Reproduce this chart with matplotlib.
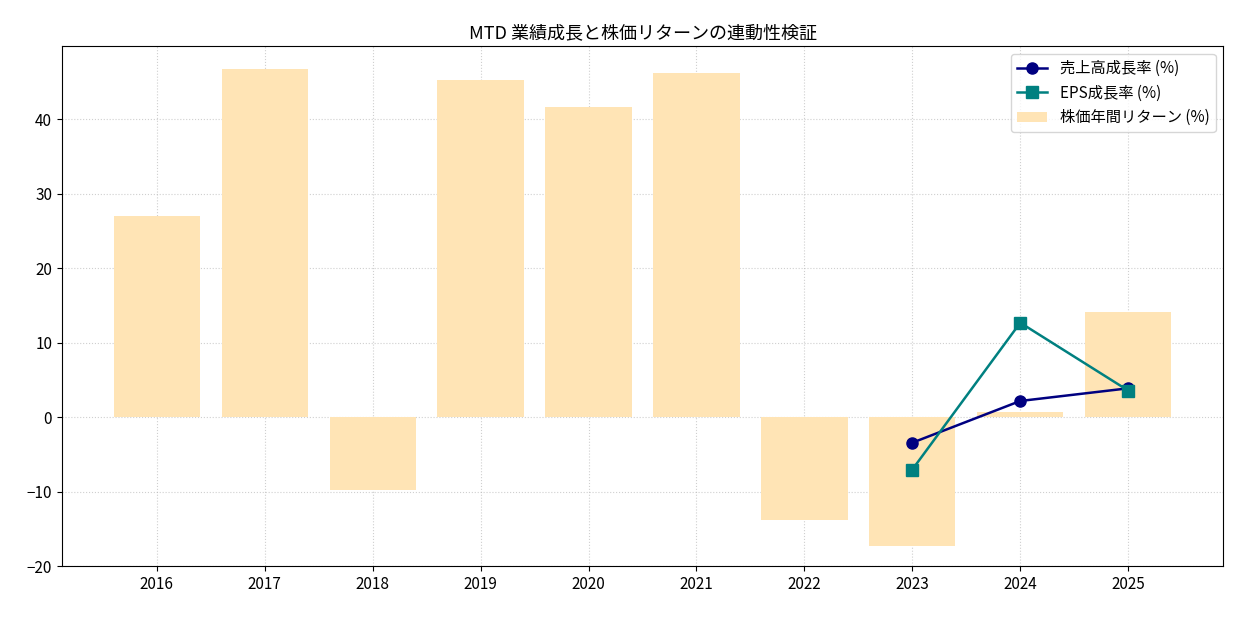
import matplotlib
matplotlib.use("Agg")
import matplotlib.pyplot as plt
import numpy as np

plt.rcParams['font.family'] = ['Noto Sans CJK JP', 'DejaVu Sans']

years = [2016, 2017, 2018, 2019, 2020, 2021, 2022, 2023, 2024, 2025]
stock_ret = [27.0, 46.8, -9.7, 45.3, 41.6, 46.2, -13.8, -17.2, 0.7, 14.2]
line_years = [2023, 2024, 2025]
rev_growth = [-3.4, 2.2, 3.9]
eps_growth = [-7.0, 12.7, 3.6]

fig, ax = plt.subplots(figsize=(12.38, 6.17), dpi=100)
x = np.arange(len(years))
ax.bar(x, stock_ret, width=0.8, color='#ffe4b5', label='株価年間リターン (%)', zorder=2)
lx = [years.index(y) for y in line_years]
ax.plot(lx, rev_growth, marker='o', markersize=8, linewidth=1.8, color='navy', label='売上高成長率 (%)', zorder=3)
ax.plot(lx, eps_growth, marker='s', markersize=8, linewidth=1.8, color='teal', label='EPS成長率 (%)', zorder=3)
ax.set_xticks(x)
ax.set_xticklabels([str(y) for y in years])
ax.set_xlim(-0.88, 9.88)
ax.set_ylim(-20, 49.8)
ax.grid(True, linestyle=':', alpha=0.6, zorder=0)
ax.set_axisbelow(True)
ax.set_title('MTD 業績成長と株価リターンの連動性検証', fontsize=13)
ax.tick_params(labelsize=11)
ax.legend(loc='upper right', fontsize=11)
fig.subplots_adjust(left=0.05, right=0.988, top=0.925, bottom=0.082)
fig.savefig('out.png')
